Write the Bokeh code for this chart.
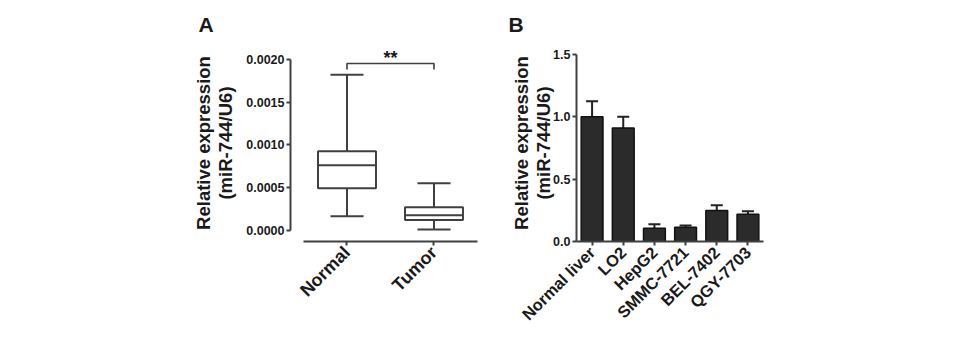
import math
from bokeh.plotting import figure
from bokeh.layouts import row
from bokeh.models import (FixedTicker, PrintfTickFormatter, Label, FactorRange, Title,
                          Range1d, ColumnDataSource, Whisker, TeeHead)
from bokeh.embed import file_html
from bokeh.resources import INLINE

# ---------------- data ----------------
# Panel A: box plot
groups = ["Normal", "Tumor"]
group_pos = [1, 2]
whisker_low = [0.000169, 0.000015]
q1 = [0.000494, 0.000123]
median = [0.000762, 0.000180]
q3 = [0.000928, 0.000272]
whisker_high = [0.00182, 0.000552]
a_ticks = [0.0, 0.0005, 0.0010, 0.0015, 0.0020]
sig_text = "**"
sig_y = 0.00195
sig_drop = 0.00188

# Panel B: bar chart with SEM
cells = ["Normal liver", "LO2", "HepG2", "SMMC-7721", "BEL-7402", "QGY-7703"]
means = [1.00, 0.91, 0.107, 0.115, 0.249, 0.219]
errs = [0.125, 0.09, 0.032, 0.013, 0.042, 0.024]
b_ticks = [0.0, 0.5, 1.0, 1.5]

y_label = "Relative expression\n(miR-744/U6)"

FONT = "Liberation Sans"
LINE = "#404040"
TEXT = "#1a1a1a"


def style_axes(p, xlab_size, label_standoff, xlab_standoff):
    for ax in (p.xaxis[0], p.yaxis[0]):
        ax.axis_line_width = 2
        ax.axis_line_color = LINE
        ax.major_tick_line_width = 2
        ax.major_tick_line_color = LINE
        ax.major_tick_in = 0
        ax.major_tick_out = 4
        ax.minor_tick_in = 0
        ax.minor_tick_out = 0
        ax.major_label_text_font = FONT
        ax.major_label_text_font_style = "bold"
        ax.major_label_text_color = TEXT
        ax.axis_label_text_font = FONT
        ax.axis_label_text_font_style = "bold"
        ax.axis_label_text_color = TEXT
        ax.axis_label_text_font_size = "18.5px"
        ax.axis_label_text_line_height = 1.05
    p.yaxis[0].major_label_text_font_size = "12.5px"
    p.xaxis[0].major_label_text_font_size = xlab_size
    p.xaxis[0].major_label_orientation = math.pi / 4
    p.yaxis[0].major_label_standoff = 2
    p.xaxis[0].major_label_standoff = xlab_standoff
    p.yaxis[0].axis_label = y_label
    p.yaxis[0].axis_label_standoff = label_standoff
    p.xgrid.grid_line_color = None
    p.ygrid.grid_line_color = None
    p.outline_line_color = None
    p.background_fill_color = "white"
    p.border_fill_color = "white"


def panel_letter(p, letter, offset):
    p.add_layout(Title(text=letter, align="left", offset=offset, standoff=18,
                       text_font=FONT, text_font_style="bold",
                       text_font_size="21px", text_color=TEXT), "above")


# ---------------- panel A ----------------
pA = figure(width=480, height=338,
            x_range=Range1d(0.3506, 2.523),
            y_range=Range1d(-0.00012644, 0.0021724),
            min_border_left=290, min_border_right=1,
            min_border_top=44, min_border_bottom=94,
            output_backend="svg", toolbar_location=None)
style_axes(pA, "18px", 7, 4)
pA.yaxis[0].ticker = FixedTicker(ticks=a_ticks)
pA.yaxis[0].formatter = PrintfTickFormatter(format="%.4f")
pA.yaxis[0].bounds = (a_ticks[0], a_ticks[-1])
pA.xaxis[0].ticker = FixedTicker(ticks=group_pos)
pA.xaxis[0].major_label_overrides = {p: g for p, g in zip(group_pos, groups)}
pA.xaxis[0].bounds = (0.5, 2.5)

half_box = 0.333
half_cap = 0.19
srcA = ColumnDataSource(dict(
    x=group_pos,
    left=[x - half_box for x in group_pos],
    right=[x + half_box for x in group_pos],
    cl=[x - half_cap for x in group_pos],
    cr=[x + half_cap for x in group_pos],
    lo=whisker_low, q1=q1, med=median, q3=q3, hi=whisker_high,
))
pA.segment(x0="x", y0="lo", x1="x", y1="q1", source=srcA, line_color=LINE, line_width=2)
pA.segment(x0="x", y0="q3", x1="x", y1="hi", source=srcA, line_color=LINE, line_width=2)
pA.segment(x0="cl", y0="lo", x1="cr", y1="lo", source=srcA, line_color=LINE, line_width=2)
pA.segment(x0="cl", y0="hi", x1="cr", y1="hi", source=srcA, line_color=LINE, line_width=2)
pA.quad(left="left", right="right", bottom="q1", top="q3", source=srcA,
        fill_color="white", line_color=LINE, line_width=2)
pA.segment(x0="left", y0="med", x1="right", y1="med", source=srcA, line_color=LINE, line_width=2)

# significance bracket
pA.line(x=[group_pos[0], group_pos[0], group_pos[1], group_pos[1]],
        y=[sig_drop, sig_y, sig_y, sig_drop], line_color=LINE, line_width=1.6)
pA.add_layout(Label(x=(group_pos[0] + group_pos[1]) / 2, y=0.002011, text=sig_text,
                    text_align="center", text_baseline="alphabetic",
                    text_font=FONT, text_font_style="bold", text_font_size="18px",
                    text_color=TEXT))
panel_letter(pA, "A", -92)

# ---------------- panel B ----------------
pB = figure(width=479, height=338,
            x_range=FactorRange(factors=cells, range_padding=0),
            y_range=Range1d(0, 1.58),
            min_border_left=96, min_border_right=196,
            min_border_top=44, min_border_bottom=97,
            output_backend="svg", toolbar_location=None)
style_axes(pB, "16.5px", -4, 4)
pB.yaxis[0].ticker = FixedTicker(ticks=b_ticks)
pB.yaxis[0].formatter = PrintfTickFormatter(format="%.1f")
pB.yaxis[0].bounds = (b_ticks[0], b_ticks[-1])

srcB = ColumnDataSource(dict(
    x=cells, top=means,
    upper=[m + e for m, e in zip(means, errs)],
))
pB.add_layout(Whisker(base="x", upper="upper", lower="top", source=srcB,
                      line_color="#222222", line_width=2,
                      upper_head=TeeHead(size=12, line_color="#222222", line_width=2),
                      lower_head=None))
pB.vbar(x="x", top="top", width=0.7, source=srcB,
        fill_color="#2b2b2b", line_color="#111111", line_width=1.5)
panel_letter(pB, "B", -68)

layout = row(pA, pB)
open("out.html", "w").write(file_html(layout, INLINE))
